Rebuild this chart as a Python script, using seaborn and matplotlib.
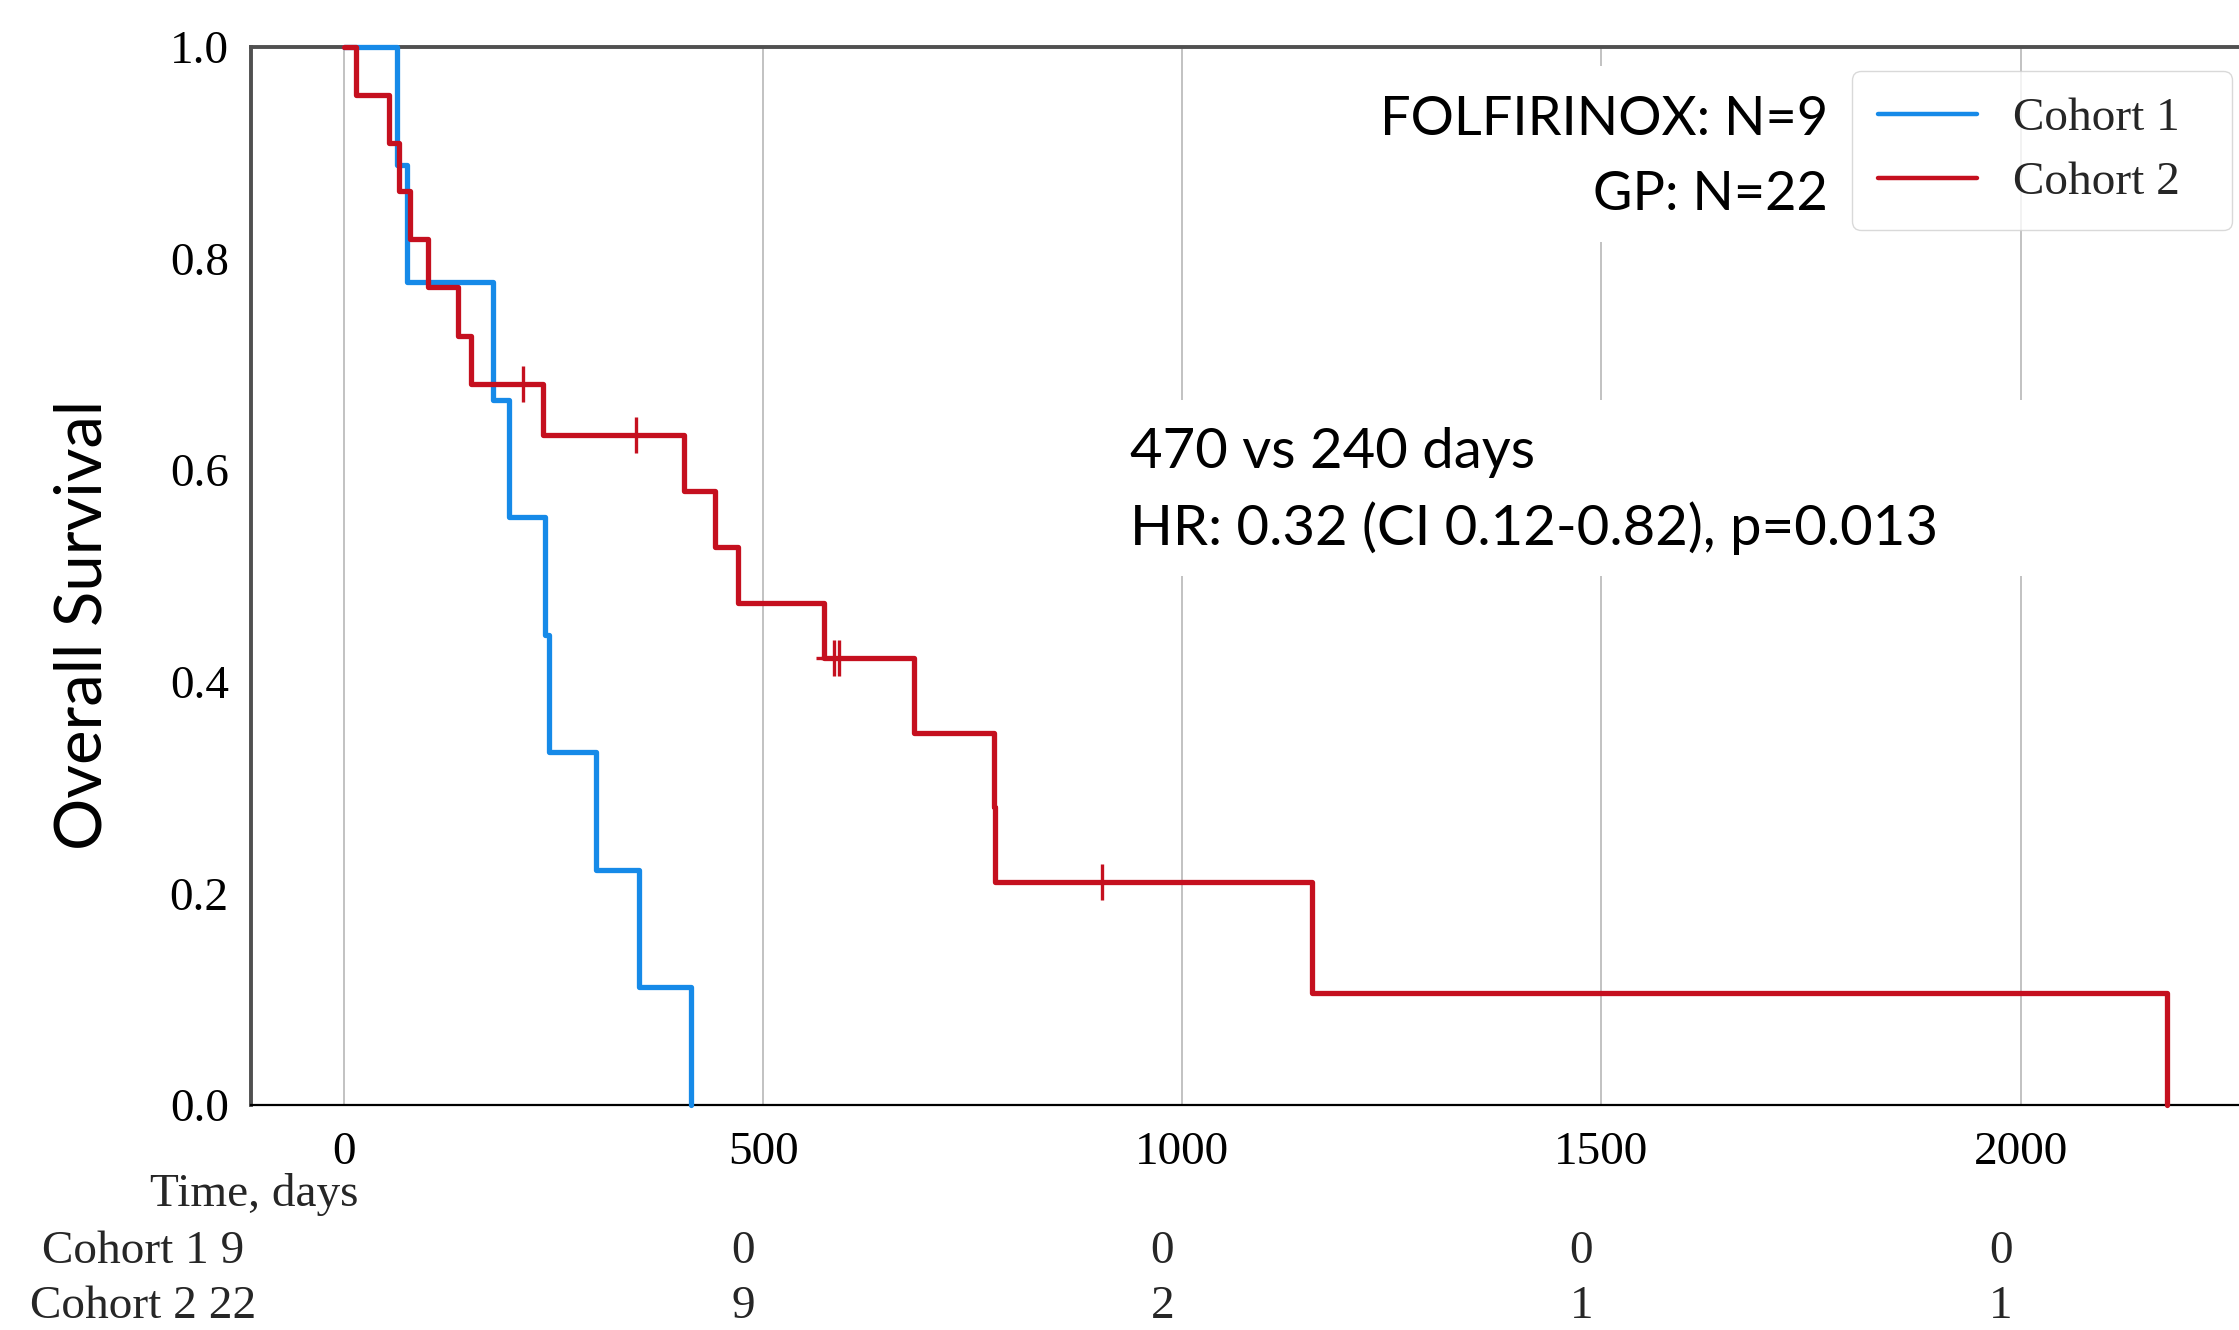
import numpy as np
import pandas as pd
import matplotlib
matplotlib.use("Agg")
import matplotlib.pyplot as plt
import matplotlib.transforms as mtransforms
from matplotlib.patches import Rectangle
import seaborn as sns

# ---------------- data ----------------
cohort_labels = ["Cohort 1", "Cohort 2"]
cohort1_event_days = [63, 75, 178, 197, 240, 244, 300, 352, 414]
cohort1_censor_days = []
cohort2_event_days = [14, 54, 66, 79, 100, 136, 151, 237, 406, 442, 470,
                      572, 680, 775, 777, 1155, 2175]
cohort2_censor_days = [213, 348, 585, 590, 904]

x_ticks = [0, 500, 1000, 1500, 2000]
y_ticks = [0.0, 0.2, 0.4, 0.6, 0.8, 1.0]
at_risk_cohort1 = [9, 0, 0, 0, 0]
at_risk_cohort2 = [22, 9, 2, 1, 1]

n_label_1 = "FOLFIRINOX: N=9"
n_label_2 = "GP: N=22"
median_text = "470 vs 240 days"
hr_text = "HR: 0.32 (CI 0.12-0.82), p=0.013"

BLUE = "#168ae8"
RED = "#c5101f"


def kaplan_meier(events, censors):
    times = sorted(set(events) | set(censors))
    n = len(events) + len(censors)
    s = 1.0
    xs, ys = [0], [1.0]
    cx, cy = [], []
    for t in times:
        d = events.count(t)
        c = censors.count(t)
        if d > 0:
            s *= (1 - d / n)
            xs.append(t)
            ys.append(s)
        if c > 0:
            cx += [t] * c
            cy += [s] * c
        n -= d + c
    return xs, ys, cx, cy


# ---------------- style ----------------
sns.set_style("white")
SERIF = ["Liberation Serif", "DejaVu Serif"]
SANS = ["Lato", "DejaVu Sans"]
plt.rcParams["font.family"] = SERIF
plt.rcParams["font.size"] = 34

W, H = 2239, 1330
fig = plt.figure(figsize=(W / 100, H / 100), dpi=100)
ax = fig.add_axes([251 / W, 1 - 1105 / H, (W - 251) / W, (1105 - 47) / H])

for lab, ev, ce, col in [(cohort_labels[0], cohort1_event_days, cohort1_censor_days, BLUE),
                         (cohort_labels[1], cohort2_event_days, cohort2_censor_days, RED)]:
    xs, ys, cx, cy = kaplan_meier(ev, ce)
    df = pd.DataFrame({"time": xs, "surv": ys})
    sns.lineplot(data=df, x="time", y="surv", ax=ax, color=col, lw=3.8,
                 drawstyle="steps-post", estimator=None, sort=False,
                 label=lab, zorder=3, clip_on=False)
    if cx:
        sns.scatterplot(x=cx, y=cy, ax=ax, marker="+", s=700, color=col,
                        linewidth=2.4, zorder=4, legend=False)

ax.set_xlim(-111, 2260.6)
ax.set_ylim(0, 1)
ax.set_xticks(x_ticks)
ax.set_yticks(y_ticks)
ax.set_yticklabels([f"{v:.1f}" for v in y_ticks])
ax.xaxis.grid(True, color="#bdbdbd", lw=1.3)
ax.yaxis.grid(False)
ax.set_axisbelow(True)
ax.tick_params(axis="both", direction="out", length=10, width=1.5,
               labelsize=34, colors="black")
ax.tick_params(axis="x", pad=9)
ax.tick_params(axis="y", pad=6)
ax.set_xlabel("")
ax.set_ylabel("")
for side in ["top", "left"]:
    ax.spines[side].set_color("#505050")
    ax.spines[side].set_linewidth(2.8)
ax.spines["bottom"].set_color("black")
ax.spines["bottom"].set_linewidth(1.6)
ax.spines["right"].set_visible(False)

# white text boxes that hide the grid behind the annotations
for (x0, y0, x1, y1) in [(1360, 66, 1845, 242), (1105, 400, 2080, 576)]:
    ax.add_patch(Rectangle((x0 / W, 1 - y1 / H), (x1 - x0) / W, (y1 - y0) / H,
                           transform=fig.transFigure, facecolor="white",
                           edgecolor="none", zorder=1))

# legend: frame spans x 1852-2232, y 71-228 (pixels)
leg = ax.legend(loc="upper left",
                bbox_to_anchor=(1852 / W, 1 - 228 / H, (2232 - 1852) / W, (228 - 71) / H),
                bbox_transform=fig.transFigure, borderaxespad=0, mode="expand",
                fontsize=34, frameon=True, fancybox=True, framealpha=0.8,
                edgecolor="#d0d0d0", labelspacing=0.45, handlelength=2.1,
                borderpad=0.55, handletextpad=0.75)
for h in leg.get_lines():
    h.set_linewidth(3.2)

# annotations (sans)
fig.text(1828 / W, 1 - 135 / H, n_label_1, ha="right", va="baseline",
         family=SANS, fontsize=39, color="black")
fig.text(1828 / W, 1 - 210 / H, n_label_2, ha="right", va="baseline",
         family=SANS, fontsize=39, color="black")
fig.text(1130 / W, 1 - 468 / H, median_text, ha="left", va="baseline",
         family=SANS, fontsize=40.5, color="black")
fig.text(1130 / W, 1 - 545 / H, hr_text, ha="left", va="baseline",
         family=SANS, fontsize=40.5, color="black")
fig.text(83 / W, 1 - 625 / H, "Overall Survival", rotation=90, ha="center",
         va="center", family=SANS, fontsize=47, color="black")

# time label and at-risk table
fig.text(254 / W, 1 - 1194 / H, "Time, days", ha="center", va="center",
         fontsize=34)
fig.text(143 / W, 1 - 1252 / H, f"{cohort_labels[0]} {at_risk_cohort1[0]}",
         ha="center", va="center", fontsize=34)
fig.text(143 / W, 1 - 1307 / H, f"{cohort_labels[1]} {at_risk_cohort2[0]}",
         ha="center", va="center", fontsize=34)
blend = mtransforms.blended_transform_factory(ax.transData, fig.transFigure)
blend = mtransforms.offset_copy(blend, fig=fig, x=-20, y=0, units="dots")
for xt, a1, a2 in zip(x_ticks[1:], at_risk_cohort1[1:], at_risk_cohort2[1:]):
    fig.text(xt, 1 - 1252 / H, str(a1), transform=blend, ha="center",
             va="center", fontsize=34)
    fig.text(xt, 1 - 1307 / H, str(a2), transform=blend, ha="center",
             va="center", fontsize=34)

fig.savefig("out.png", dpi=100)
